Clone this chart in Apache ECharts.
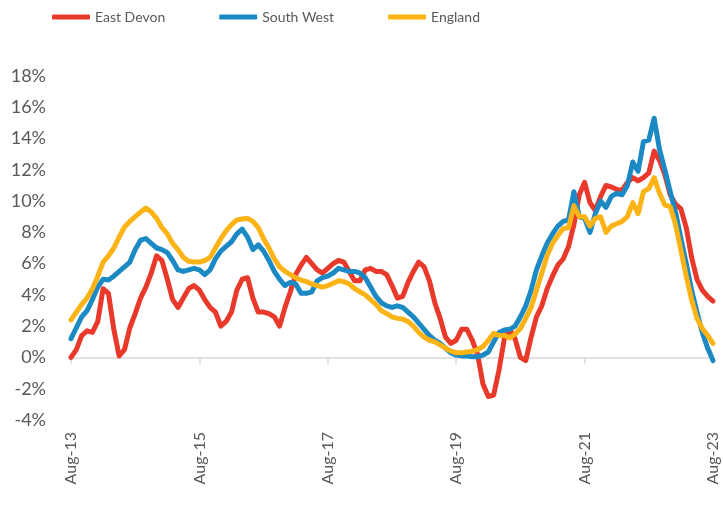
<!DOCTYPE html>
<html>
<head>
<meta charset="utf-8">
<title>House price growth</title>
<script src="https://cdn.jsdelivr.net/npm/echarts@6/dist/echarts.min.js"></script>
<style>
  html, body { margin: 0; padding: 0; background: #fff; }
  #chart { width: 723px; height: 509px; }
</style>
</head>
<body>
<div id="chart"></div>
<script>
// monthly labels Aug-13 .. Aug-23
const monthNames = ['Jan', 'Feb', 'Mar', 'Apr', 'May', 'Jun', 'Jul', 'Aug', 'Sep', 'Oct', 'Nov', 'Dec']
const months = []
for (let i = 0; i <= 120; i++) {
  const m = (7 + i) % 12
  const y = 13 + Math.floor((7 + i) / 12)
  months.push(monthNames[m] + '-' + y)
}

const eastDevon = [
  0.0, 0.5, 1.4, 1.7, 1.6, 2.3, 4.4, 4.1, 1.8, 0.1,
  0.5, 1.9, 2.8, 3.8, 4.5, 5.4, 6.5, 6.2, 5.0, 3.7,
  3.2, 3.8, 4.4, 4.6, 4.3, 3.7, 3.2, 2.9, 2.0, 2.3,
  2.9, 4.3, 5.0, 5.1, 3.8, 2.9, 2.9, 2.8, 2.6, 2.0,
  3.2, 4.2, 5.3, 5.9, 6.4, 6.0, 5.6, 5.4, 5.7, 6.0,
  6.2, 6.1, 5.5, 4.9, 4.9, 5.6, 5.7, 5.5, 5.5, 5.3,
  4.6, 3.8, 3.9, 4.8, 5.5, 6.1, 5.8, 4.9, 3.5, 2.5,
  1.3, 0.9, 1.1, 1.8, 1.8, 1.1, 0.2, -1.7, -2.5, -2.4,
  -0.8, 1.2, 1.8, 1.2, 0.0, -0.2, 1.3, 2.6, 3.3, 4.4,
  5.2, 5.9, 6.3, 7.1, 8.5, 10.4, 11.2, 9.9, 9.4, 10.3,
  11.0, 10.9, 10.75, 10.7, 11.2, 11.5, 11.3, 11.5, 11.8, 13.2,
  12.6, 11.7, 10.4, 9.8, 9.5, 8.3, 6.4, 5.0, 4.3, 3.9,
  3.6
]

const southWest = [
  1.2, 1.9, 2.6, 3.0, 3.7, 4.5, 5.0, 4.95, 5.2, 5.5,
  5.8, 6.1, 6.9, 7.5, 7.6, 7.3, 7.0, 6.9, 6.7, 6.2,
  5.6, 5.5, 5.6, 5.7, 5.6, 5.3, 5.6, 6.3, 6.8, 7.1,
  7.4, 7.9, 8.2, 7.7, 6.9, 7.2, 6.8, 6.2, 5.5, 5.0,
  4.6, 4.8, 4.7, 4.1, 4.1, 4.2, 4.9, 5.1, 5.2, 5.4,
  5.7, 5.6, 5.5, 5.5, 5.4, 5.1, 4.5, 3.9, 3.5, 3.3,
  3.2, 3.3, 3.2, 2.9, 2.6, 2.2, 1.8, 1.4, 1.1, 0.9,
  0.6, 0.3, 0.15, 0.1, 0.1, 0.05, 0.05, 0.15, 0.35, 1.0,
  1.6, 1.75, 1.8, 2.0, 2.6, 3.3, 4.3, 5.6, 6.5, 7.3,
  7.9, 8.4, 8.7, 8.8, 10.6, 9.0, 8.9, 8.0, 9.2, 10.0,
  9.6, 10.3, 10.5, 10.4, 11.0, 12.5, 11.9, 13.8, 13.9, 15.3,
  13.3, 12.0, 10.6, 9.3, 7.6, 6.0, 4.3, 2.9, 1.6, 0.6,
  -0.2
]

const england = [
  2.4, 2.9, 3.4, 3.8, 4.4, 5.2, 6.1, 6.5, 7.0, 7.7,
  8.35, 8.7, 9.0, 9.3, 9.55, 9.3, 8.9, 8.3, 7.9, 7.3,
  6.9, 6.4, 6.15, 6.1, 6.1, 6.2, 6.4, 7.0, 7.6, 8.1,
  8.5, 8.8, 8.85, 8.9, 8.7, 8.3, 7.6, 7.0, 6.3, 5.8,
  5.5, 5.3, 5.1, 4.95, 4.85, 4.7, 4.6, 4.5, 4.6, 4.75,
  4.9, 4.85, 4.7, 4.4, 4.2, 4.0, 3.7, 3.4, 3.0, 2.8,
  2.6, 2.5, 2.45, 2.3, 2.0, 1.6, 1.3, 1.1, 1.0, 0.8,
  0.6, 0.4, 0.3, 0.3, 0.35, 0.4, 0.5, 0.7, 1.1, 1.55,
  1.4, 1.4, 1.25, 1.5, 1.85, 2.5, 3.2, 4.3, 5.4, 6.5,
  7.3, 7.8, 8.25, 8.3, 9.7, 9.0, 9.0, 8.4, 8.9, 9.0,
  8.0, 8.4, 8.55, 8.7, 9.0, 9.9, 9.2, 10.6, 10.8, 11.5,
  10.5, 9.75, 9.65, 8.5, 6.85, 5.2, 3.7, 2.5, 1.85, 1.4,
  0.9
]

const seriesNames = ['East Devon', 'South West', 'England']
const seriesColors = ['#e8392b', '#1b8ac4', '#fcb316']

const textColor = '#595959'
const fontFamily = 'Lato, "Liberation Sans", sans-serif'

const chart = echarts.init(document.getElementById('chart'))

const makeLine = (name, data, color) => ({
  name: name,
  type: 'line',
  data: data,
  xAxisIndex: 0,
  showSymbol: false,
  symbol: 'none',
  lineStyle: { color: color, width: 5, cap: 'round', join: 'round' },
  itemStyle: { color: color },
  emphasis: { disabled: true },
})

const option = {
  animation: false,
  legend: {
    top: 10,
    left: 52,
    padding: 0,
    itemWidth: 38,
    itemHeight: 5,
    itemGap: 54,
    icon: 'roundRect',
    textStyle: { color: textColor, fontSize: 14, fontFamily: fontFamily },
    data: seriesNames,
  },
  grid: {
    left: 71,
    right: 10,
    top: 76,
    bottom: 89,
  },
  xAxis: [
    {
      // axis line drawn at zero, with ticks
      type: 'category',
      data: months,
      boundaryGap: false,
      axisLine: { onZero: true, lineStyle: { color: '#d9d9d9', width: 1.5 } },
      axisTick: { show: true, interval: 23, length: 6, lineStyle: { color: '#d9d9d9', width: 1.5 } },
      axisLabel: { show: false },
      splitLine: { show: false },
    },
    {
      // labels at bottom of the plot
      type: 'category',
      data: months,
      position: 'bottom',
      boundaryGap: false,
      axisLine: { show: false, onZero: false },
      axisTick: { show: false },
      axisLabel: {
        interval: 23,
        rotate: 90,
        margin: 12,
        color: textColor,
        fontSize: 16,
        fontFamily: fontFamily,
      },
      splitLine: { show: false },
    },
  ],
  yAxis: {
    type: 'value',
    min: -4,
    max: 18,
    interval: 2,
    axisLine: { show: false },
    axisTick: { show: false },
    splitLine: { show: false },
    axisLabel: {
      margin: 25,
      color: textColor,
      fontSize: 18,
      fontFamily: fontFamily,
      formatter: (v) => v + '%',
    },
  },
  series: [
    makeLine(seriesNames[0], eastDevon, seriesColors[0]),
    makeLine(seriesNames[1], southWest, seriesColors[1]),
    makeLine(seriesNames[2], england, seriesColors[2]),
  ],
}

chart.setOption(option)
</script>
</body>
</html>
